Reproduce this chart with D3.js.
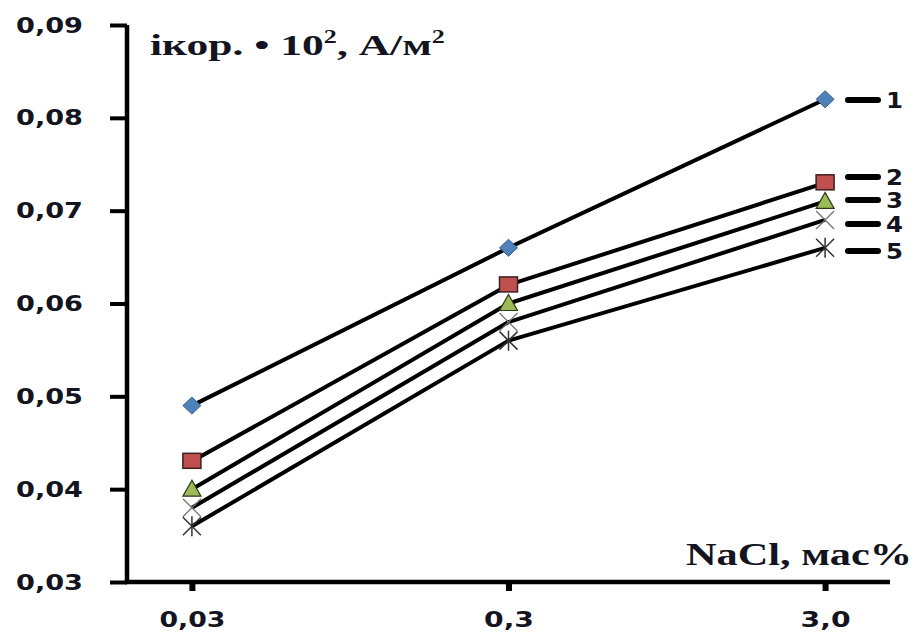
<!DOCTYPE html>
<html><head><meta charset="utf-8">
<script src="https://cdn.jsdelivr.net/npm/d3@7"></script>
<style>body{margin:0;background:#fff}svg{display:block}</style>
</head><body>
<svg id="c" width="920" height="638"></svg>
<script>
const categories = ["0,03", "0,3", "3,0"];
const series1 = [0.049, 0.066, 0.082];
const series2 = [0.043, 0.062, 0.073];
const series3 = [0.040, 0.060, 0.071];
const series4 = [0.038, 0.058, 0.069];
const series5 = [0.036, 0.056, 0.066];
const seriesNames = ["1", "2", "3", "4", "5"];
const yTicks = [0.03, 0.04, 0.05, 0.06, 0.07, 0.08, 0.09];
const yTickLabels = ["0,03", "0,04", "0,05", "0,06", "0,07", "0,08", "0,09"];

const allSeries = [series1, series2, series3, series4, series5];
const markers = ["diamond", "square", "triangle", "x", "star"];
const legendY = [100, 177, 200, 224, 251];

const svg = d3.select("#c");
const x = d3.scalePoint().domain(categories).range([127, 890]).padding(0.205);
const y = d3.scaleLinear().domain([0.03, 0.09]).range([582, 25]);

const tickFont = "'DejaVu Sans', Verdana, sans-serif";
const serif = "'Liberation Serif', 'Times New Roman', serif";
const txtColor = "#141420";

// Y axis
const yAxis = svg.append("g").attr("transform", "translate(127,0)")
  .call(d3.axisLeft(y).tickValues(yTicks).tickSize(17).tickSizeOuter(0)
    .tickFormat((d, i) => yTickLabels[i]).tickPadding(27));
yAxis.select(".domain").attr("stroke", "#000").attr("stroke-width", 4.5).attr("d", `M0,${y(0.09)}V${y(0.03)+2}`);
yAxis.selectAll(".tick line").attr("stroke", "#000").attr("stroke-width", 4);
yAxis.selectAll(".tick text").attr("font-family", tickFont).attr("font-weight", "bold")
  .attr("font-size", 22).attr("fill", txtColor).attr("textLength", 67).attr("lengthAdjust", "spacingAndGlyphs");

// X axis
const xAxis = svg.append("g").attr("transform", `translate(0,${y(0.03)})`)
  .call(d3.axisBottom(x).tickSize(9).tickSizeOuter(0).tickPadding(20));
xAxis.select(".domain").attr("stroke", "#000").attr("stroke-width", 4.5).attr("d", "M125,0H890");
xAxis.selectAll(".tick line").attr("stroke", "#000").attr("stroke-width", 6);
xAxis.selectAll(".tick text").attr("font-family", tickFont).attr("font-weight", "bold")
  .attr("font-size", 22).attr("fill", txtColor)
  .each(function(d){ const n = d.length; d3.select(this).attr("textLength", n === 4 ? 66 : 50).attr("lengthAdjust", "spacingAndGlyphs"); });

// Lines
const line = d3.line().x((d, i) => x(categories[i])).y(d => y(d));
allSeries.forEach(s => {
  svg.append("path").datum(s).attr("d", line).attr("fill", "none")
    .attr("stroke", "#000").attr("stroke-width", 4).attr("stroke-linejoin", "round");
});

// Markers
function drawMarker(g, type, cx, cy) {
  if (type === "diamond") {
    g.append("path").attr("d", `M${cx},${cy-8.5}L${cx+9},${cy}L${cx},${cy+8.5}L${cx-9},${cy}Z`)
      .attr("fill", "#4F81BD").attr("stroke", "#385d8a").attr("stroke-width", 1);
  } else if (type === "square") {
    g.append("rect").attr("x", cx-9).attr("y", cy-8).attr("width", 18).attr("height", 15)
      .attr("fill", "#C0504D").attr("stroke", "#3a2020").attr("stroke-width", 1.5);
  } else if (type === "triangle") {
    g.append("path").attr("d", `M${cx},${cy-9}L${cx+9},${cy+7}L${cx-9},${cy+7}Z`)
      .attr("fill", "#9BBB59").attr("stroke", "#2a3a1a").attr("stroke-width", 1.2);
  } else if (type === "x") {
    g.append("path").attr("d", `M${cx-9},${cy-9}L${cx+9},${cy+9}M${cx+9},${cy-9}L${cx-9},${cy+9}`)
      .attr("stroke", "#777").attr("stroke-width", 1.3).attr("fill", "none");
  } else if (type === "star") {
    g.append("path").attr("d", `M${cx-9},${cy-9}L${cx+9},${cy+9}M${cx+9},${cy-9}L${cx-9},${cy+9}M${cx},${cy-10}V${cy+10}`)
      .attr("stroke", "#333").attr("stroke-width", 1.5).attr("fill", "none");
  }
}
allSeries.forEach((s, si) => {
  const g = svg.append("g");
  s.forEach((v, i) => drawMarker(g, markers[si], x(categories[i]), y(v)));
});

// Legend labels
seriesNames.forEach((n, i) => {
  svg.append("line").attr("x1", 848).attr("x2", 878).attr("y1", legendY[i]).attr("y2", legendY[i])
    .attr("stroke", "#000").attr("stroke-width", 6).attr("stroke-linecap", "round");
  svg.append("text").attr("x", 886).attr("y", legendY[i] + 8).text(n)
    .attr("font-family", tickFont).attr("font-weight", "bold").attr("font-size", 21).attr("fill", txtColor)
    .attr("textLength", 17).attr("lengthAdjust", "spacingAndGlyphs");
});

// Title (y axis label)
const t = svg.append("text").attr("transform", "translate(150,55) scale(1.45,1)")
  .attr("font-family", serif).attr("font-weight", "bold").attr("font-size", 30).attr("fill", txtColor);
t.append("tspan").text("iкор. • 10");
t.append("tspan").text("2").attr("dy", -12).attr("font-size", 18);
t.append("tspan").text(", А/м").attr("dy", 12);
t.append("tspan").text("2").attr("dy", -12).attr("font-size", 18);

// X axis title
svg.append("text").attr("x", 912).attr("y", 565).attr("text-anchor", "end")
  .attr("font-family", serif).attr("font-weight", "bold").attr("font-size", 31).attr("fill", txtColor)
  .attr("textLength", 226).attr("lengthAdjust", "spacingAndGlyphs")
  .text("NaCl, мас%");
</script>
</body></html>
